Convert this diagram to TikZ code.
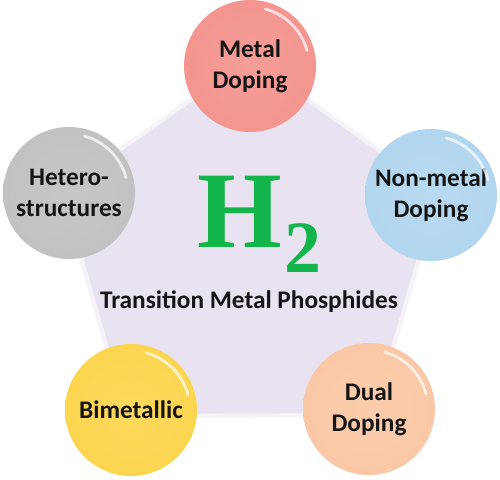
\documentclass[tikz,border=0pt]{standalone}
\usepackage{fontspec}
\usetikzlibrary{calc, backgrounds}
\newfontfamily\labelfont{Carlito}
\newfontfamily\hfont{Liberation Serif}
\definecolor{cpink}{HTML}{F4958F}
\definecolor{cgray}{HTML}{C2C2C2}
\definecolor{cblue}{HTML}{B2D6EF}
\definecolor{cyellow}{HTML}{FCD550}
\definecolor{cpeach}{HTML}{FAC8A6}
\definecolor{clav}{HTML}{E9E2F0}
\definecolor{cgreen}{HTML}{14B44C}
\definecolor{cink}{HTML}{151515}
\tikzset{
  ball/.style={circle, minimum size=2.64cm, inner sep=0pt, align=center, text=cink,
    inner color=#1!92!white, outer color=#1,
    font=\labelfont\bfseries\fontsize{14.4}{17.6}\selectfont},
  gloss/.style={draw=white, opacity=0.7, line width=1.6pt, line cap=round},
  pent/.style={fill=clav, draw=clav!45!white, line width=2.5pt, rounded corners=22pt},
  caption/.style={font=\labelfont\bfseries\fontsize{14.4}{16}\selectfont, text=cink},
}
\begin{document}
\begin{tikzpicture}
  \useasboundingbox (0,0) rectangle (10,9.58);
  \coordinate (mid) at (5,4.42);
  % spheres on the corners
  \foreach \name/\pos/\col/\txt in {metal/{5,8.26}/cpink/{Metal\\Doping},
      nonmetal/{8.62,5.68}/cblue/{Non-metal\\Doping},
      dual/{7.38,1.4}/cpeach/{Dual\\Doping},
      bimetal/{2.62,1.38}/cyellow/{Bimetallic},
      hetero/{1.38,5.72}/cgray/{Hetero-\\structures}} {
    \node[ball=\col] (\name) at (\pos) {\txt};
    \draw[gloss] ($(\name.center)+(15:1.18)$) arc (15:75:1.18);
  }
  % pentagon behind
  \begin{scope}[on background layer]
    \draw[pent] ($(mid)!1.04!(metal.center)$) -- ($(mid)!1.04!(nonmetal.center)$)
      -- ($(mid)!1.04!(dual.center)$) -- ($(mid)!1.04!(bimetal.center)$)
      -- ($(mid)!1.04!(hetero.center)$) -- cycle;
  \end{scope}
  \node[anchor=base, text=cgreen, font=\hfont\bfseries\fontsize{62}{62}\selectfont, inner sep=0pt]
    (htwo) at (5.19,4.64) {H\kern1pt\raisebox{-0.5cm}{\fontsize{42}{42}\selectfont 2}};
  \node[caption, anchor=base] (tmp) at (4.98,3.42) {Transition Metal Phosphides};
\end{tikzpicture}
\end{document}
